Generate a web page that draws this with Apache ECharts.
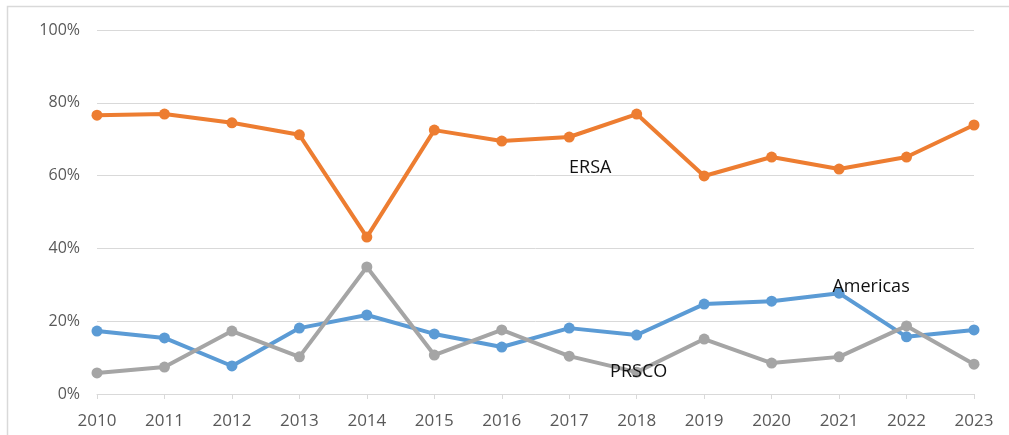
<!DOCTYPE html>
<html>
<head>
<meta charset="utf-8">
<script src="https://cdn.jsdelivr.net/npm/echarts@6/dist/echarts.min.js"></script>
<style>
  html, body { margin: 0; padding: 0; background: #fff; }
  #chartWrap { width: 1009px; height: 435px; }
</style>
</head>
<body>
<div id="chartWrap"></div>
<script>
// years on the x axis
var years = ['2010', '2011', '2012', '2013', '2014', '2015', '2016',
  '2017', '2018', '2019', '2020', '2021', '2022', '2023'];

// shares in percent
var ersa = [76.6, 76.9, 74.5, 71.2, 43.1, 72.5, 69.5, 70.6, 76.9, 59.9, 65.1, 61.8, 65.1, 73.9];
var americas = [17.3, 15.4, 7.7, 18.1, 21.7, 16.5, 12.9, 18.1, 16.2, 24.7, 25.5, 27.7, 15.7, 17.6];
var prsco = [5.8, 7.4, 17.3, 10.2, 34.9, 10.7, 17.6, 10.4, 6.0, 15.1, 8.5, 10.2, 18.7, 8.2];

var FONT = '"Open Sans", "Liberation Sans", sans-serif';

// put a name label on one point of a series
function withLabel(values, idx, text, offset) {
  return values.map(function(v, i) {
    if (i != idx) return v;
    return {
      value: v,
      label: {
        show: true,
        position: 'inside',
        offset: offset,
        formatter: text,
        color: '#111',
        fontSize: 18,
        fontFamily: FONT
      }
    };
  });
}

function lineSeries(name, values, color) {
  return {
    name: name,
    type: 'line',
    data: values,
    symbol: 'circle',
    symbolSize: 11,
    lineStyle: { color: color, width: 4 },
    itemStyle: { color: color },
    emphasis: { disabled: true },
    animation: false
  };
}

var myChart = echarts.init(document.getElementById('chartWrap'));
myChart.setOption({
  backgroundColor: '#fff',
  graphic: [{
    type: 'rect',
    shape: { x: 7.5, y: 6.5, width: 1100, height: 500 },
    style: { fill: 'none', stroke: '#d9d9d9', lineWidth: 1.5 },
    silent: true
  }],
  grid: { left: 97, right: 35, top: 30, bottom: 41 },
  xAxis: {
    type: 'category',
    data: years,
    boundaryGap: false,
    axisLine: { lineStyle: { color: '#d9d9d9', width: 1 } },
    axisTick: { show: true, alignWithLabel: true, length: 5, lineStyle: { color: '#d9d9d9' } },
    axisLabel: { color: '#595959', fontSize: 17, fontFamily: FONT, margin: 19 },
    splitLine: { show: false }
  },
  yAxis: {
    type: 'value',
    min: 0,
    max: 100,
    interval: 20,
    axisLine: { show: false },
    axisTick: { show: false },
    axisLabel: {
      color: '#595959', fontSize: 16, fontFamily: FONT, margin: 17,
      formatter: function(v) { return v + '%'; }
    },
    splitLine: { lineStyle: { color: '#d9d9d9', width: 1 } }
  },
  series: [
    lineSeries('ERSA', withLabel(ersa, 7, 'ERSA', [21, 31]), '#ed7d31'),
    lineSeries('Americas', withLabel(americas, 11, 'Americas', [32, -6]), '#5b9bd5'),
    lineSeries('PRSCO', withLabel(prsco, 8, 'PRSCO', [2, 0]), '#a5a5a5')
  ]
});
</script>
</body>
</html>
